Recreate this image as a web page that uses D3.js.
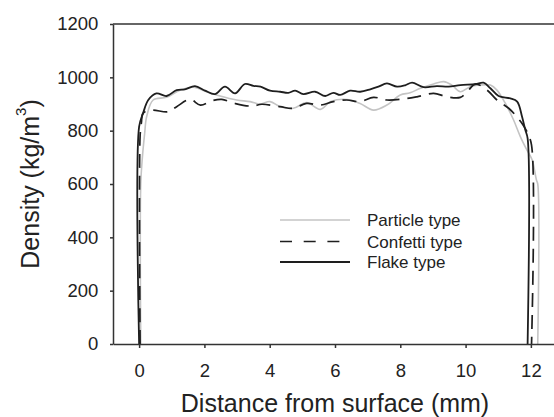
<!DOCTYPE html>
<html>
<head>
<meta charset="utf-8">
<script src="https://cdn.jsdelivr.net/npm/d3@7"></script>
<style>
  html, body { margin: 0; padding: 0; background: #fff; }
  svg { display: block; font-family: "Liberation Sans", Arial, Helvetica, sans-serif; }
</style>
</head>
<body>
<svg id="chart" width="554" height="417"></svg>
<script>
// ---- data ----
const xTicks = [0, 2, 4, 6, 8, 10, 12];
const yTicks = [0, 200, 400, 600, 800, 1000, 1200];

const seriesNames = ["Particle type", "Confetti type", "Flake type"];

const particleX = [0.05, 0.05, 0.10, 0.17, 0.23, 0.43, 0.84, 1.25, 1.66, 2.07, 2.48, 2.99, 3.40, 3.70, 4.01, 4.32, 4.72, 5.13, 5.55, 5.87, 6.36, 6.77, 7.18, 7.59, 8.00, 8.30, 8.62, 9.02, 9.33, 9.58, 9.84, 10.14, 10.45, 10.76, 10.96, 11.22, 11.47, 11.68, 11.88, 12.04, 12.17, 12.21, 12.21];
const particleY = [0, 600, 700, 790, 852, 915, 925, 952, 963, 946, 930, 915, 909, 900, 909, 890, 884, 905, 880, 909, 917, 902, 877, 896, 934, 942, 959, 975, 984, 971, 946, 965, 971, 971, 952, 902, 840, 777, 727, 690, 615, 600, 0];

const confettiX = [0.03, 0.03, 0.07, 0.12, 0.38, 0.89, 1.15, 1.56, 1.88, 2.23, 2.53, 2.94, 3.45, 3.76, 4.32, 4.72, 5.13, 5.55, 5.95, 6.36, 6.77, 7.18, 7.59, 8.10, 8.51, 9.02, 9.43, 9.84, 10.09, 10.30, 10.66, 10.96, 11.32, 11.52, 11.73, 11.88, 12.02, 12.02];
const confettiY = [0, 780, 830, 865, 877, 871, 890, 917, 896, 912, 917, 902, 892, 899, 890, 884, 902, 896, 909, 915, 909, 925, 915, 919, 927, 940, 927, 925, 952, 975, 952, 915, 884, 859, 827, 796, 746, 0];

const flakeX = [0, 0, 0.12, 0.28, 0.53, 0.84, 1.15, 1.40, 1.71, 2.02, 2.32, 2.63, 2.94, 3.24, 3.50, 3.72, 4.01, 4.32, 4.57, 4.78, 5.03, 5.39, 5.70, 5.95, 6.16, 6.46, 6.77, 7.08, 7.33, 7.59, 7.90, 8.15, 8.36, 8.71, 9.12, 9.48, 9.84, 10.30, 10.55, 10.76, 11.01, 11.37, 11.58, 11.73, 11.83, 11.90, 11.90];
const flakeY = [0, 815, 865, 915, 940, 930, 952, 955, 967, 950, 937, 965, 940, 975, 968, 965, 950, 946, 942, 950, 937, 946, 930, 942, 934, 950, 946, 955, 965, 977, 965, 970, 980, 963, 967, 965, 971, 974, 980, 959, 930, 921, 909, 852, 802, 771, 0];

// ---- chart ----
const svg = d3.select("#chart");
const x = d3.scaleLinear().domain([-0.8, 12.8]).range([113, 557]);
const y = d3.scaleLinear().domain([0, 1200]).range([344, 24]);

const axisColor = "#333";

const styles = [
  { stroke: "#c4c4c4", width: 1.6, dash: null, legendDash: null },
  { stroke: "#1e1e1e", width: 1.7, dash: "14,8", legendDash: "12,11.7" },
  { stroke: "#1e1e1e", width: 1.8, dash: null, legendDash: null }
];

const series = [
  particleX.map((v, i) => [v, particleY[i]]),
  confettiX.map((v, i) => [v, confettiY[i]]),
  flakeX.map((v, i) => [v, flakeY[i]])
];

const line = d3.line()
  .x(d => x(d[0]))
  .y(d => y(d[1]))
  .curve(d3.curveCatmullRom.alpha(0.5));

series.forEach((s, i) => {
  svg.append("path")
    .datum(s)
    .attr("fill", "none")
    .attr("stroke", styles[i].stroke)
    .attr("stroke-width", styles[i].width)
    .attr("stroke-dasharray", styles[i].dash)
    .attr("stroke-linejoin", "round")
    .attr("d", line);
});

// top frame line
svg.append("line")
  .attr("x1", x(-0.8)).attr("x2", 560)
  .attr("y1", y(1200)).attr("y2", y(1200))
  .attr("stroke", axisColor).attr("stroke-width", 1.5);

// axes
const fmt = d3.format("d");
const gx = svg.append("g")
  .attr("transform", `translate(0,${y(0)})`)
  .call(d3.axisBottom(x).tickValues(xTicks).tickFormat(fmt).tickSize(4).tickSizeOuter(0).tickPadding(16));
const gy = svg.append("g")
  .attr("transform", `translate(${x(-0.8)},0)`)
  .call(d3.axisLeft(y).tickValues(yTicks).tickFormat(fmt).tickSize(3).tickSizeOuter(0).tickPadding(11.7));

[gx, gy].forEach(g => {
  g.selectAll("path, line").attr("stroke", axisColor).attr("stroke-width", 1.5);
  g.selectAll("text")
    .attr("fill", "#222")
    .style("font-size", "18.5px")
    .style("font-family", "'Liberation Sans', Arial, sans-serif");
});

// axis titles
svg.append("text")
  .attr("x", x(6)).attr("y", 411.5)
  .attr("text-anchor", "middle")
  .attr("fill", "#222")
  .style("font-size", "25px")
  .text("Distance from surface (mm)");

const yt = svg.append("text")
  .attr("transform", `translate(39,${y(600)}) rotate(-90)`)
  .attr("text-anchor", "middle")
  .attr("fill", "#222")
  .style("font-size", "25px");
yt.append("tspan").text("Density (kg/m");
yt.append("tspan").attr("dy", -13).style("font-size", "15px").text("3");
yt.append("tspan").attr("dy", 13).text(")");

// legend
const legendY = [220, 241.5, 262];
const lg = svg.append("g");
seriesNames.forEach((name, i) => {
  lg.append("line")
    .attr("x1", 280).attr("x2", i === 1 ? 342 : 350)
    .attr("y1", legendY[i]).attr("y2", legendY[i])
    .attr("stroke", styles[i].stroke)
    .attr("stroke-width", styles[i].width)
    .attr("stroke-dasharray", styles[i].legendDash);
  lg.append("text")
    .attr("x", 367).attr("y", legendY[i] + 6)
    .attr("fill", "#222")
    .style("font-size", "17px")
    .text(name);
});
</script>
</body>
</html>
